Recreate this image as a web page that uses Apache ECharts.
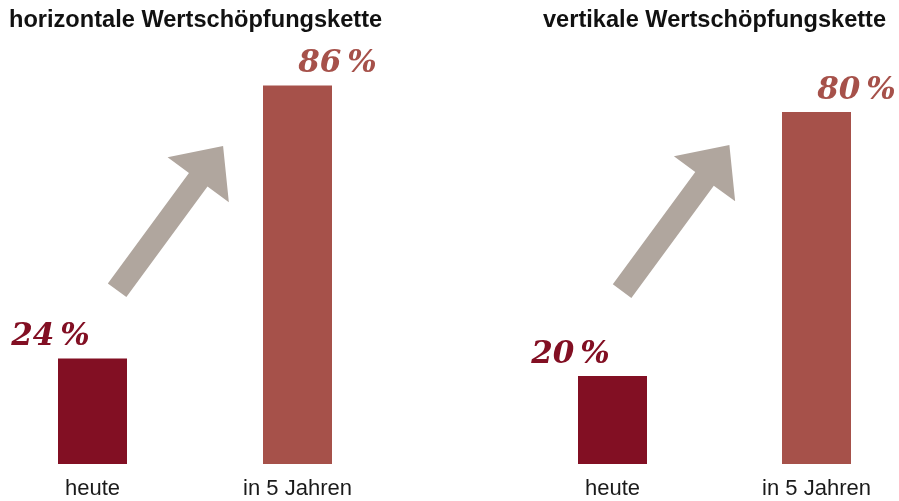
<!DOCTYPE html>
<html>
<head>
<meta charset="utf-8">
<script src="https://cdn.jsdelivr.net/npm/echarts@6/dist/echarts.min.js"></script>
<style>
html,body{margin:0;padding:0;background:#fff;}
#chart{width:899px;height:501px;}
</style>
</head>
<body>
<div id="chart"></div>
<script>
// ---- data ----
const categories = ['heute', 'in 5 Jahren'];
const panelTitles = ['horizontale Wertschöpfungskette', 'vertikale Wertschöpfungskette'];
const horizontalValues = [24, 86];
const verticalValues = [20, 80];
// arrows: [tail position between categories (0..1), tail value, tip position, tip value]
const horizontalArrow = [0.12, 39.5, 0.637, 72.3];
const verticalArrow = [0.047, 39.3, 0.573, 72.5];

const barColors = ['#820f23', '#a6514a'];
const arrowColor = '#b0a69e';

function barData(values) {
  return values.map((v, i) => ({
    value: v,
    itemStyle: { color: barColors[i] },
    label: { color: barColors[i], offset: [i === 0 ? -42 : 40, 0] }
  }));
}

function arrowRender(arrow) {
  return function (params, api) {
    const a0 = api.coord([0, arrow[1]]);
    const a1 = api.coord([1, arrow[1]]);
    const b0 = api.coord([0, arrow[3]]);
    const b1 = api.coord([1, arrow[3]]);
    const tail = [a0[0] + arrow[0] * (a1[0] - a0[0]), a0[1]];
    const tip = [b0[0] + arrow[2] * (b1[0] - b0[0]), b0[1]];
    const dx = tip[0] - tail[0], dy = tip[1] - tail[1];
    const len = Math.sqrt(dx * dx + dy * dy);
    const d = [dx / len, dy / len];
    const n = [-d[1], d[0]];
    const shaft = 11.5, head = 38, headLen = 42;
    const back = [tip[0] - headLen * d[0], tip[1] - headLen * d[1]];
    const P = (p, k) => [p[0] + k * n[0], p[1] + k * n[1]];
    return {
      type: 'polygon',
      shape: { points: [P(tail, -shaft), P(back, -shaft), P(back, -head), tip, P(back, head), P(back, shaft), P(tail, shaft)] },
      style: { fill: arrowColor }
    };
  };
}

const labelFont = { fontFamily: 'DejaVu Serif', fontStyle: 'italic', fontWeight: 'bold', fontSize: 31 };
const labelStyle = {
  show: true,
  position: 'top',
  distance: 6,
  formatter: p => '{n|' + p.value + '}{p|%}',
  rich: {
    n: Object.assign({}, labelFont),
    p: Object.assign({ padding: [0, 0, 0, 6] }, labelFont)
  }
};

const xAxisCommon = {
  type: 'category',
  data: categories,
  boundaryGap: false,
  axisLine: { show: false },
  axisTick: { show: false },
  splitLine: { show: false },
  axisLabel: { fontFamily: 'Liberation Sans, Arial, sans-serif', fontSize: 22, color: '#1a1a1a', margin: 14 }
};
const yAxisCommon = { type: 'value', min: 0, max: 100, show: false, splitLine: { show: false } };

const titleStyle = { fontFamily: 'Liberation Sans, Arial, sans-serif', fontWeight: 'bold', fontSize: 23.6, color: '#111' };

const chart = echarts.init(document.getElementById('chart'), null, { renderer: 'canvas' });
chart.setOption({
  animation: false,
  backgroundColor: '#ffffff',
  title: [
    { text: panelTitles[0], left: 9, top: 8, padding: 0, textStyle: titleStyle },
    { text: panelTitles[1], left: 543, top: 8, padding: 0, textStyle: titleStyle }
  ],
  grid: [
    { left: 92.5, right: 601.5, top: 24, bottom: 37 },
    { left: 612.5, right: 82.5, top: 24, bottom: 37 }
  ],
  xAxis: [
    Object.assign({ gridIndex: 0 }, xAxisCommon),
    Object.assign({ gridIndex: 1 }, xAxisCommon)
  ],
  yAxis: [
    Object.assign({ gridIndex: 0 }, yAxisCommon),
    Object.assign({ gridIndex: 1 }, yAxisCommon)
  ],
  series: [
    { type: 'custom', xAxisIndex: 0, yAxisIndex: 0, data: [[0, 0]], renderItem: arrowRender(horizontalArrow), silent: true, z: 1 },
    { type: 'custom', xAxisIndex: 1, yAxisIndex: 1, data: [[0, 0]], renderItem: arrowRender(verticalArrow), silent: true, z: 1 },
    { type: 'bar', xAxisIndex: 0, yAxisIndex: 0, barWidth: 69, data: barData(horizontalValues), label: labelStyle, z: 2 },
    { type: 'bar', xAxisIndex: 1, yAxisIndex: 1, barWidth: 69, data: barData(verticalValues), label: labelStyle, z: 2 }
  ]
});
</script>
</body>
</html>
